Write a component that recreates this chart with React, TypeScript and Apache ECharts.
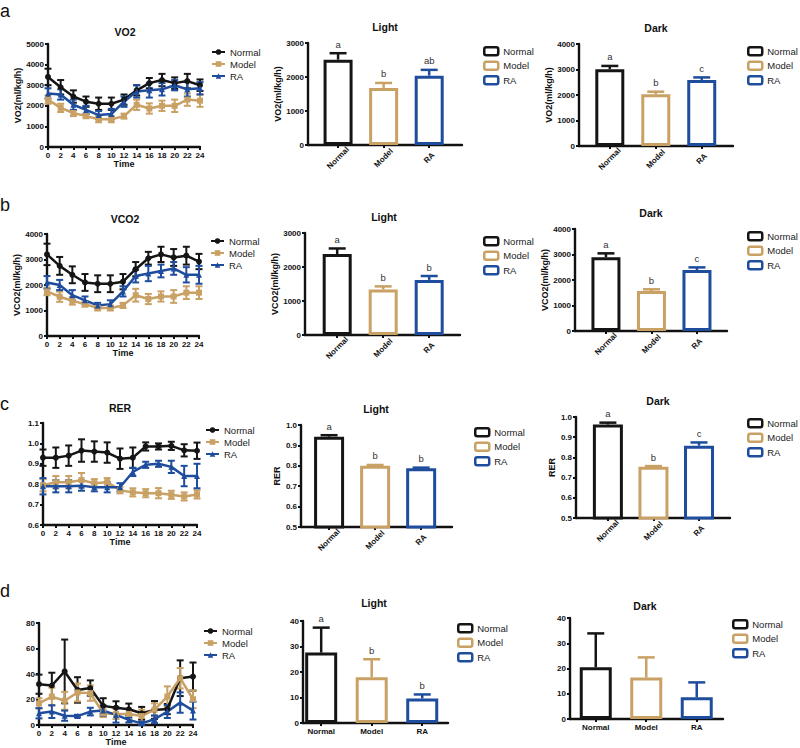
import React, { useEffect, useRef } from 'react';
import * as echarts from 'echarts';

const FONT = '"Liberation Sans", Arial, Helvetica, sans-serif';
const GROUPS = ['Normal', 'Model', 'RA'];
const COLORS = ['#151515', '#c9a165', '#1f4d9d'];
const SYMBOLS = ['circle', 'rect', 'triangle'];
const HOURS = [0, 2, 4, 6, 8, 10, 12, 14, 16, 18, 20, 22, 24];

// ---- a: VO2 time course ----
const vo2Normal = [3400, 2900, 2450, 2200, 2100, 2100, 2300, 2750, 3100, 3250, 3100, 3200, 3000];
const vo2NormalSem = [400, 350, 300, 250, 300, 300, 250, 250, 250, 300, 280, 350, 280];
const vo2Model = [2300, 1900, 1650, 1500, 1350, 1350, 1500, 2050, 1870, 2000, 2000, 2300, 2250];
const vo2ModelSem = [200, 200, 150, 100, 150, 150, 120, 250, 250, 250, 300, 300, 300];
const vo2RA = [2600, 2550, 2050, 1800, 1550, 1600, 2200, 2700, 2750, 2800, 3000, 2800, 2850];
const vo2RASem = [250, 250, 250, 200, 200, 250, 250, 300, 350, 300, 250, 350, 300];

// ---- b: VCO2 time course ----
const vco2Normal = [3200, 2750, 2400, 2100, 2050, 2050, 2130, 2620, 3050, 3200, 3080, 3150, 2920];
const vco2NormalSem = [420, 350, 330, 330, 330, 330, 300, 280, 250, 300, 330, 350, 300];
const vco2Model = [1750, 1540, 1380, 1250, 1100, 1100, 1200, 1600, 1450, 1550, 1550, 1700, 1700];
const vco2ModelSem = [150, 200, 150, 100, 100, 100, 100, 250, 200, 200, 250, 250, 250];
const vco2RA = [2100, 2000, 1600, 1400, 1200, 1250, 1750, 2350, 2450, 2550, 2650, 2400, 2400];
const vco2RASem = [250, 200, 200, 150, 100, 150, 200, 250, 300, 250, 250, 300, 350];

// ---- c: RER time course ----
const rerNormal = [0.93, 0.93, 0.94, 0.965, 0.96, 0.955, 0.925, 0.93, 0.985, 0.985, 0.988, 0.966, 0.964];
const rerNormalSem = [0.04, 0.05, 0.05, 0.055, 0.05, 0.05, 0.05, 0.05, 0.02, 0.015, 0.02, 0.03, 0.04];
const rerModel = [0.795, 0.81, 0.81, 0.82, 0.805, 0.81, 0.77, 0.76, 0.756, 0.756, 0.748, 0.74, 0.75];
const rerModelSem = [0.03, 0.03, 0.03, 0.035, 0.02, 0.02, 0.015, 0.02, 0.02, 0.025, 0.02, 0.02, 0.02];
const rerRA = [0.79, 0.79, 0.79, 0.793, 0.785, 0.785, 0.785, 0.86, 0.895, 0.9, 0.885, 0.84, 0.84];
const rerRASem = [0.04, 0.03, 0.03, 0.025, 0.02, 0.025, 0.02, 0.02, 0.015, 0.015, 0.03, 0.05, 0.06];

// ---- d: activity time course ----
const actNormal = [32, 31, 42, 27.5, 29, 15, 13.6, 12.3, 9.2, 11.8, 12.5, 36.7, 38];
const actNormalSem = [7.5, 10, 25, 10, 6, 6, 5, 4.5, 5, 7, 4, 14, 11];
const actModel = [17, 22.3, 19, 25.5, 25, 9.2, 8.7, 8.7, 7, 12, 22.3, 36.7, 20.2];
const actModelSem = [4, 7, 7, 7, 6, 3, 4, 4, 5, 5, 8, 8, 7];
const actRA = [9.2, 10.5, 7.3, 7, 10.5, 11.3, 7.9, 4, 1.3, 4.5, 10.5, 17.6, 11.3];
const actRASem = [4, 5, 4, 1, 3, 4, 6, 2, 1.3, 3, 5, 8, 7];

// ---- bar summaries (Normal, Model, RA) ----
const vo2Light = [2510, 1680, 2040];
const vo2LightSem = [190, 145, 170];
const vo2LightLetters = ['a', 'b', 'ab'];
const vo2Dark = [3010, 2030, 2590];
const vo2DarkSem = [130, 100, 100];
const vo2DarkLetters = ['a', 'b', 'c'];

const vco2Light = [2380, 1340, 1620];
const vco2LightSem = [165, 90, 115];
const vco2LightLetters = ['a', 'b', 'b'];
const vco2Dark = [2890, 1570, 2390];
const vco2DarkSem = [155, 65, 105];
const vco2DarkLetters = ['a', 'b', 'c'];

const rerLight = [0.943, 0.8, 0.788];
const rerLightSem = [0.007, 0.004, 0.003];
const rerLightLetters = ['a', 'b', 'b'];
const rerDark = [0.963, 0.754, 0.858];
const rerDarkSem = [0.009, 0.003, 0.016];
const rerDarkLetters = ['a', 'b', 'c'];

const actLight = [27.6, 17.9, 9.6];
const actLightSem = [9.8, 7.1, 1.6];
const actLightLetters = ['a', 'b', 'b'];
const actDark = [20.5, 16.4, 8.6];
const actDarkSem = [13.4, 8.0, 5.9];
const actDarkLetters = ['', '', ''];

const fix1 = (v: number) => v.toFixed(1);
const plain = (v: number) => String(Math.round(v));

const linePanels = [
  { title: 'VO2', tx: 125, ty: 32, grid: { left: 48, top: 44, width: 152, height: 103 }, yMin: 0, yMax: 5000, yInt: 1000, yName: 'VO2(ml/kg/h)', yGap: 21, fmt: plain, timeGap: 12, legend: { left: 211, top: 47 }, means: [vo2Normal, vo2Model, vo2RA], sems: [vo2NormalSem, vo2ModelSem, vo2RASem] },
  { title: 'VCO2', tx: 125, ty: 219, grid: { left: 47, top: 234, width: 152, height: 102 }, yMin: 0, yMax: 4000, yInt: 1000, yName: 'VCO2(ml/kg/h)', yGap: 23, fmt: plain, timeGap: 11, legend: { left: 210, top: 236 }, means: [vco2Normal, vco2Model, vco2RA], sems: [vco2NormalSem, vco2ModelSem, vco2RASem] },
  { title: 'RER', tx: 120, ty: 408, grid: { left: 43, top: 423, width: 154, height: 102 }, yMin: 0.6, yMax: 1.1, yInt: 0.1, yName: '', yGap: 20, fmt: fix1, timeGap: 11, legend: { left: 205, top: 425 }, means: [rerNormal, rerModel, rerRA], sems: [rerNormalSem, rerModelSem, rerRASem] },
  { title: '', tx: 0, ty: 0, grid: { left: 39, top: 623, width: 154, height: 102 }, yMin: 0, yMax: 80, yInt: 20, yName: '', yGap: 20, fmt: plain, timeGap: 10, legend: { left: 203, top: 626 }, means: [actNormal, actModel, actRA], sems: [actNormalSem, actModelSem, actRASem] },
];

const barPanels = [
  { title: 'Light', tx: 385, ty: 27, grid: { left: 308, top: 43, width: 154, height: 102 }, xMin: -0.66, xMax: 2.72, yMin: 0, yMax: 3000, yInt: 1000, yName: 'VO2(ml/kg/h)', yGap: 21, fmt: plain, rotate: 45, barWidth: 29, legend: { left: 483, top: 46 }, means: vo2Light, sems: vo2LightSem, letters: vo2LightLetters },
  { title: 'Dark', tx: 656, ty: 28, grid: { left: 579, top: 44, width: 154, height: 102 }, xMin: -0.67, xMax: 2.68, yMin: 0, yMax: 4000, yInt: 1000, yName: 'VO2(ml/kg/h)', yGap: 20, fmt: plain, rotate: 45, barWidth: 29, legend: { left: 747, top: 46 }, means: vo2Dark, sems: vo2DarkSem, letters: vo2DarkLetters },
  { title: 'Light', tx: 384, ty: 217, grid: { left: 305, top: 233, width: 155, height: 102 }, xMin: -0.70, xMax: 2.67, yMin: 0, yMax: 3000, yInt: 1000, yName: 'VCO2(ml/kg/h)', yGap: 21, fmt: plain, rotate: 45, barWidth: 29, legend: { left: 483, top: 236 }, means: vco2Light, sems: vco2LightSem, letters: vco2LightLetters },
  { title: 'Dark', tx: 651, ty: 213, grid: { left: 575, top: 229, width: 152, height: 102 }, xMin: -0.68, xMax: 2.66, yMin: 0, yMax: 4000, yInt: 1000, yName: 'VCO2(ml/kg/h)', yGap: 23, fmt: plain, rotate: 45, barWidth: 29, legend: { left: 747, top: 231 }, means: vco2Dark, sems: vco2DarkSem, letters: vco2DarkLetters },
  { title: 'Light', tx: 376, ty: 409, grid: { left: 301, top: 425, width: 151, height: 102 }, xMin: -0.61, xMax: 2.67, yMin: 0.5, yMax: 1.0, yInt: 0.1, yName: 'RER', yGap: 18, fmt: fix1, rotate: 45, barWidth: 30, legend: { left: 474, top: 427 }, means: rerLight, sems: rerLightSem, letters: rerLightLetters },
  { title: 'Dark', tx: 658, ty: 401, grid: { left: 576, top: 417, width: 154, height: 101 }, xMin: -0.70, xMax: 2.68, yMin: 0.5, yMax: 1.0, yInt: 0.1, yName: 'RER', yGap: 15, fmt: fix1, rotate: 45, barWidth: 30, legend: { left: 747, top: 418 }, means: rerDark, sems: rerDarkSem, letters: rerDarkLetters },
  { title: 'Light', tx: 374, ty: 603, grid: { left: 303, top: 621, width: 145, height: 102 }, xMin: -0.36, xMax: 2.51, yMin: 0, yMax: 40, yInt: 10, yName: '', yGap: 20, fmt: plain, rotate: 0, barWidth: 32, legend: { left: 457, top: 623 }, means: actLight, sems: actLightSem, letters: actLightLetters },
  { title: 'Dark', tx: 645, ty: 606, grid: { left: 570, top: 618, width: 153, height: 101 }, xMin: -0.51, xMax: 2.52, yMin: 0, yMax: 40, yInt: 10, yName: '', yGap: 20, fmt: plain, rotate: 0, barWidth: 32, legend: { left: 732, top: 619 }, means: actDark, sems: actDarkSem, letters: actDarkLetters },
];

const panelLetters = [
  { t: 'a', y: 11 },
  { t: 'b', y: 205 },
  { t: 'c', y: 404 },
  { t: 'd', y: 591 },
];

function buildOption() {
  const grid: any[] = [];
  const xAxis: any[] = [];
  const yAxis: any[] = [];
  const series: any[] = [];
  const legend: any[] = [];
  const graphic: any[] = [];

  const axisLine = { show: true, onZero: false, lineStyle: { color: '#111', width: 2.4 } };
  const axisTick = { show: true, inside: false, length: 3, lineStyle: { color: '#111', width: 2 } };
  const tickLabel = { fontSize: 8, fontWeight: 'bold', color: '#111', fontFamily: FONT, margin: 4 };
  const nameStyle = { fontSize: 9, fontWeight: 'bold', color: '#111', fontFamily: FONT };

  const lineErr = (color: string, cap: number, floor: number) => (params: any, api: any) => {
    const x = api.value(0);
    const y = api.value(1);
    const e = api.value(2);
    const t = api.coord([x, y + e]);
    const b = api.coord([x, Math.max(y - e, floor)]);
    const st = { stroke: color, lineWidth: 2 };
    return {
      type: 'group',
      children: [
        { type: 'line', shape: { x1: t[0], y1: t[1], x2: b[0], y2: b[1] }, style: st },
        { type: 'line', shape: { x1: t[0] - cap, y1: t[1], x2: t[0] + cap, y2: t[1] }, style: st },
        { type: 'line', shape: { x1: b[0] - cap, y1: b[1], x2: b[0] + cap, y2: b[1] }, style: st },
      ],
    };
  };

  const barErr = (letters: string[], cap: number) => (params: any, api: any) => {
    const k = api.value(0);
    const v = api.value(1);
    const e = api.value(2);
    const idx = params.dataIndex;
    const base = api.coord([k, v]);
    const top = api.coord([k, v + e]);
    const st = { stroke: COLORS[idx], lineWidth: 2.5 };
    const children: any[] = [
      { type: 'line', shape: { x1: base[0], y1: base[1], x2: top[0], y2: top[1] }, style: st },
      { type: 'line', shape: { x1: top[0] - cap, y1: top[1], x2: top[0] + cap, y2: top[1] }, style: st },
    ];
    if (letters[idx]) {
      children.push({
        type: 'text',
        x: top[0],
        y: top[1] - 4,
        style: { text: letters[idx], align: 'center', verticalAlign: 'bottom', textAlign: 'center', textVerticalAlign: 'bottom', fontSize: 9.5, fontFamily: FONT, fill: '#333' },
      });
    }
    return { type: 'group', children };
  };

  const titleText = (text: string, x: number, y: number) => ({
    type: 'text',
    x,
    y,
    silent: true,
    style: { text, align: 'center', verticalAlign: 'middle', textAlign: 'center', textVerticalAlign: 'middle', fontSize: 10.5, fontWeight: 'bold', fontFamily: FONT, fill: '#111' },
  });

  linePanels.forEach((p) => {
    const gi = grid.length;
    grid.push({ ...p.grid, containLabel: false, outerBoundsMode: 'none' });
    xAxis.push({
      gridIndex: gi, type: 'value', min: 0, max: 24, interval: 2,
      axisLine, axisTick, axisLabel: tickLabel, splitLine: { show: false },
      name: 'Time', nameLocation: 'middle', nameGap: p.timeGap, nameTextStyle: nameStyle,
    });
    yAxis.push({
      gridIndex: gi, type: 'value', min: p.yMin, max: p.yMax, interval: p.yInt,
      axisLine, axisTick, axisLabel: { ...tickLabel, formatter: p.fmt },
      splitLine: { show: false },
      name: p.yName, nameLocation: 'middle', nameGap: p.yGap, nameTextStyle: nameStyle,
    });
    GROUPS.forEach((g, k) => {
      series.push({
        type: 'custom', xAxisIndex: gi, yAxisIndex: gi, silent: true, z: 2,
        data: HOURS.map((h, j) => [h, p.means[k][j], p.sems[k][j]]),
        encode: { x: 0, y: 1 },
        renderItem: lineErr(COLORS[k], 3.5, p.yMin),
      });
      series.push({
        type: 'line', name: g, xAxisIndex: gi, yAxisIndex: gi, silent: true, z: 3,
        data: HOURS.map((h, j) => [h, p.means[k][j]]),
        symbol: SYMBOLS[k], symbolSize: 6, showSymbol: true,
        color: COLORS[k],
        lineStyle: { width: 2.5, color: COLORS[k] },
        itemStyle: { color: COLORS[k] },
      });
    });
    legend.push({
      orient: 'vertical', left: p.legend.left, top: p.legend.top, padding: 0,
      itemWidth: 13, itemHeight: 7, itemGap: 2, selectedMode: false,
      data: GROUPS,
      textStyle: { fontSize: 9.5, color: '#222', fontFamily: FONT },
    });
    if (p.title) graphic.push(titleText(p.title, p.tx, p.ty));
  });

  barPanels.forEach((p) => {
    const gi = grid.length;
    grid.push({ ...p.grid, containLabel: false, outerBoundsMode: 'none' });
    const catLabel: any = { ...tickLabel, customValues: [0, 1, 2], rotate: p.rotate, formatter: (v: number) => GROUPS[Math.round(v)] };
    if (p.rotate) {
      catLabel.align = 'center';
      catLabel.verticalAlign = 'middle';
      catLabel.margin = 13;
    }
    xAxis.push({
      gridIndex: gi, type: 'value', min: p.xMin, max: p.xMax,
      axisLine,
      axisTick: { ...axisTick, customValues: [0, 1, 2] },
      axisLabel: catLabel,
      splitLine: { show: false },
    });
    yAxis.push({
      gridIndex: gi, type: 'value', min: p.yMin, max: p.yMax, interval: p.yInt,
      axisLine, axisTick, axisLabel: { ...tickLabel, formatter: p.fmt },
      splitLine: { show: false },
      name: p.yName, nameLocation: 'middle', nameGap: p.yGap, nameTextStyle: nameStyle,
    });
    series.push({
      type: 'bar', xAxisIndex: gi, yAxisIndex: gi, silent: true, z: 2,
      barWidth: p.barWidth,
      data: p.means.map((v, k) => ({ value: [k, v], itemStyle: { color: '#fff', borderColor: COLORS[k], borderWidth: 3 } })),
    });
    series.push({
      type: 'custom', xAxisIndex: gi, yAxisIndex: gi, silent: true, z: 3,
      data: p.means.map((v, k) => [k, v, p.sems[k]]),
      encode: { x: 0, y: 1 },
      renderItem: barErr(p.letters, 8.5),
    });
    legend.push({
      orient: 'vertical', left: p.legend.left, top: p.legend.top, padding: 0,
      itemWidth: 14, itemHeight: 8, itemGap: 4, selectedMode: false,
      data: GROUPS.map((g, k) => ({
        name: g, icon: 'roundRect',
        itemStyle: { color: '#fff', borderColor: COLORS[k], borderWidth: 2.5 },
      })),
      textStyle: { fontSize: 9.5, color: '#222', fontFamily: FONT },
    });
    graphic.push(titleText(p.title, p.tx, p.ty));
  });

  panelLetters.forEach((l) => {
    graphic.push({
      type: 'text', x: 0, y: l.y, silent: true,
      style: { text: l.t, align: 'left', verticalAlign: 'middle', textAlign: 'left', textVerticalAlign: 'middle', fontSize: 18, fontFamily: FONT, fill: '#111' },
    });
  });

  return {
    animation: false,
    backgroundColor: '#fff',
    textStyle: { fontFamily: FONT },
    tooltip: { show: false },
    grid, xAxis, yAxis, series, legend, graphic,
  };
}

export default function App() {
  const ref = useRef<HTMLDivElement>(null);
  useEffect(() => {
    document.body.style.margin = '0';
    if (!ref.current) return;
    const chart = echarts.init(ref.current, null, { renderer: 'svg' });
    chart.setOption(buildOption() as any);
    return () => chart.dispose();
  }, []);
  return (
    <div
      ref={ref}
      style={{ position: 'absolute', left: 0, top: 0, width: 800, height: 748, background: '#fff' }}
    />
  );
}
